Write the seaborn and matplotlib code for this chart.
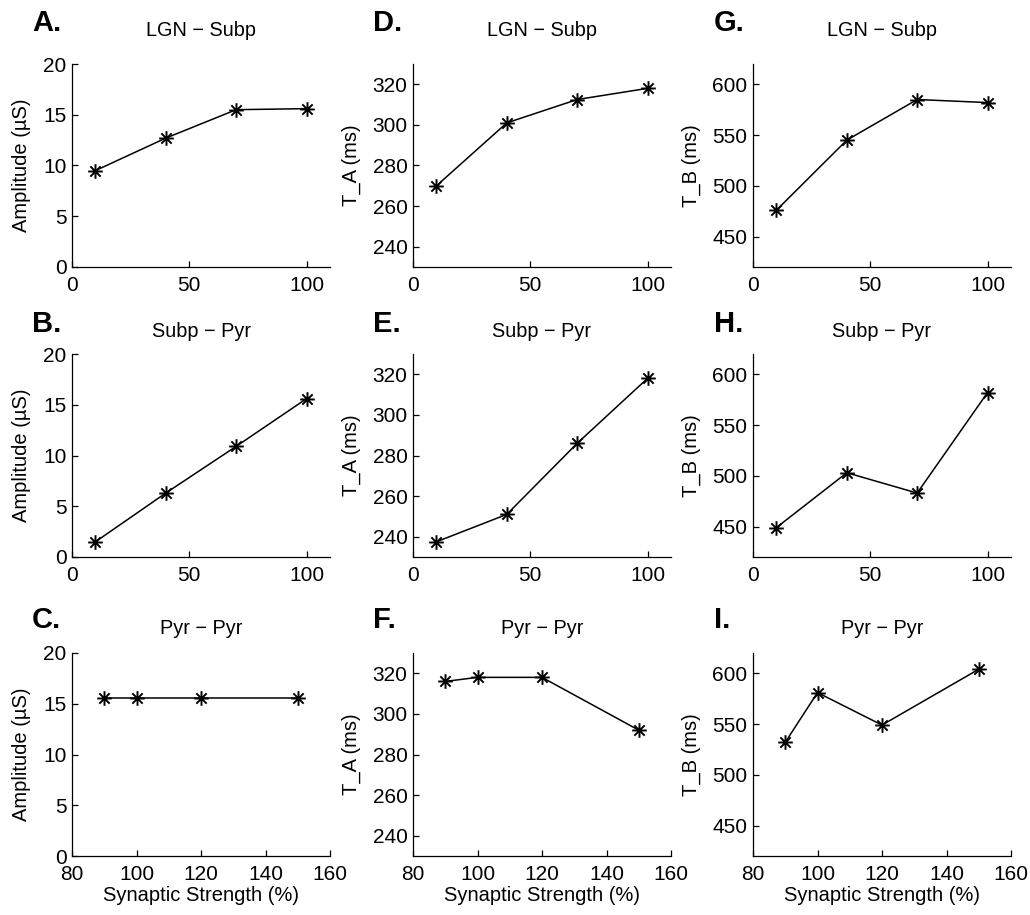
import numpy as np
import matplotlib
matplotlib.use("Agg")
import matplotlib.pyplot as plt
from matplotlib.path import Path
import seaborn as sns

# Synaptic strength settings (%)
strength_scan = [10, 40, 70, 100]
strength_pyr = [90, 100, 120, 150]

# Amplitude (uS)
amp_lgn_subp = [9.5, 12.7, 15.5, 15.6]
amp_subp_pyr = [1.5, 6.3, 10.9, 15.6]
amp_pyr_pyr = [15.6, 15.6, 15.6, 15.6]

# T_A (ms)
ta_lgn_subp = [270, 301, 312.5, 318]
ta_subp_pyr = [237.5, 251, 286, 318]
ta_pyr_pyr = [316, 318, 318, 292]

# T_B (ms)
tb_lgn_subp = [476, 545, 585, 582]
tb_subp_pyr = [449, 503, 483, 582]
tb_pyr_pyr = [532, 581, 549, 604]

row_titles = ["LGN \u2212 Subp", "Subp \u2212 Pyr", "Pyr \u2212 Pyr"]
panel_letters = [["A.", "D.", "G."], ["B.", "E.", "H."], ["C.", "F.", "I."]]
y_labels = ["Amplitude (\u00b5S)", "T_A (ms)", "T_B (ms)"]
x_label = "Synaptic Strength (%)"

sns.set_theme(style="white")
plt.rcParams["font.family"] = ["Liberation Sans", "DejaVu Sans"]
plt.rcParams["axes.edgecolor"] = "black"
plt.rcParams["axes.linewidth"] = 0.9
plt.rcParams["text.color"] = "black"
plt.rcParams["axes.labelcolor"] = "black"
plt.rcParams["xtick.color"] = "black"
plt.rcParams["ytick.color"] = "black"

W, H = 1030, 915
fig = plt.figure(figsize=(W / 100, H / 100), dpi=100)

# eight-armed asterisk marker
arms = []
codes = []
for ang in np.deg2rad([0, 45, 90, 135]):
    dx, dy = np.cos(ang), np.sin(ang)
    arms += [(-dx, -dy), (dx, dy)]
    codes += [Path.MOVETO, Path.LINETO]
asterisk = Path(arms, codes)

col_left = [72, 413, 753]
row_top = [64, 354, 653]
ax_w, ax_h = 258, 203

series = [
    [amp_lgn_subp, ta_lgn_subp, tb_lgn_subp],
    [amp_subp_pyr, ta_subp_pyr, tb_subp_pyr],
    [amp_pyr_pyr, ta_pyr_pyr, tb_pyr_pyr],
]
ylims = [(0, 20), (230, 330), (420, 620)]
yticks = [[0, 5, 10, 15, 20], [240, 260, 280, 300, 320], [450, 500, 550, 600]]
ylabel_x = [-0.16, -0.2, -0.2]

letter_base = [31, 332, 628]
title_base = [36, 337, 634]
letter_x = [32, 373, 714]

for r in range(3):
    for c in range(3):
        left = col_left[c] / W
        bottom = 1 - (row_top[r] + ax_h) / H
        ax = fig.add_axes([left, bottom, ax_w / W, ax_h / H])
        xs = strength_pyr if r == 2 else strength_scan
        sns.lineplot(x=xs, y=series[r][c], ax=ax, color="black",
                     linewidth=1.1, marker=asterisk, markersize=10.5,
                     markeredgecolor="black", markerfacecolor="none",
                     markeredgewidth=1.4)
        ax.set_ylim(*ylims[c])
        ax.set_yticks(yticks[c])
        if r == 2:
            ax.set_xlim(80, 160)
            ax.set_xticks([80, 100, 120, 140, 160])
            ax.set_xlabel(x_label, fontsize=14.5)
            ax.xaxis.set_label_coords(0.5, -0.15)
        else:
            ax.set_xlim(0, 110)
            ax.set_xticks([0, 50, 100])
        ax.set_ylabel(y_labels[c], fontsize=14.5)
        ax.yaxis.set_label_coords(ylabel_x[c], 0.5)
        sns.despine(ax=ax)
        ax.tick_params(direction="in", length=4, width=0.9, labelsize=15,
                       left=True, bottom=True)
        ax.tick_params(axis="y", pad=4)
        ax.tick_params(axis="x", pad=6.5)
        ax.set_facecolor("white")

        fig.text(letter_x[c] / W, 1 - letter_base[r] / H, panel_letters[r][c],
                 fontsize=21, fontweight="bold", ha="left", va="baseline")
        fig.text((col_left[c] + ax_w / 2) / W, 1 - title_base[r] / H,
                 row_titles[r], fontsize=14.3, ha="center", va="baseline")

fig.savefig("out.png", dpi=100, facecolor="white")
